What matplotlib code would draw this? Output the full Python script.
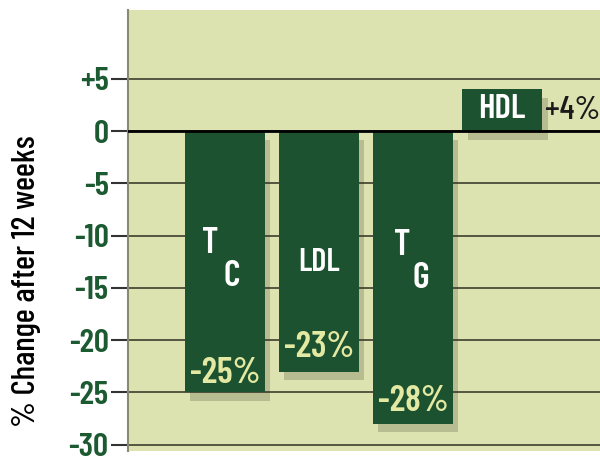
import matplotlib.pyplot as plt
import matplotlib.patheffects as pe

# dane
labels = ["TC", "LDL", "TG", "HDL"]
values = [-25, -23, -28, 4]
pct_labels = ["-25%", "-23%", "-28%", "+4%"]
positions = [0, 1, 2, 2.95]
yticks = [5, 0, -5, -10, -15, -20, -25, -30]
ytick_labels = ["+5", "0", "-5", "-10", "-15", "-20", "-25", "-30"]

bar_col = "#1d5230"
bg_col = "#dce3b1"
tick_col = "#1c5a32"
pct_col = "#e3e9a2"

plt.rcParams['font.family'] = ['Barlow Condensed', 'DejaVu Sans']

fig = plt.figure(figsize=(6, 4.59), dpi=100)
fig.patch.set_facecolor("white")
ax = fig.add_axes([128/600, 8/459, 1 - 128/600, 1 - 18/459])
ax.set_facecolor(bg_col)

# cien pod slupkami
shadow = [pe.SimplePatchShadow(offset=(4, -6), shadow_rgbFace="#3a3a20", alpha=0.22), pe.Normal()]
bars = ax.bar(positions, values, width=0.85, color=bar_col, zorder=3)
for b in bars:
    b.set_path_effects(shadow)

# siatka
for t in yticks:
    ax.axhline(t, color="#4a4a38", lw=1.3, zorder=1)
ax.axhline(0, color="black", lw=2, zorder=4)

ax.set_xlim(-1.03, 3.99)
ax.set_ylim(-30.6, 11.6)
ax.set_yticks(yticks)
ax.set_yticklabels(ytick_labels, color=tick_col, fontsize=24, fontweight=600)
ax.set_xticks([])
ax.tick_params(axis="y", length=12, width=1.5, color="#333333", pad=2)
for s in ["top", "right", "bottom"]:
    ax.spines[s].set_visible(False)
ax.spines["left"].set_color("#8a8a70")
ax.spines["left"].set_linewidth(1.5)

ax.set_ylabel("% Change after 12 weeks", fontsize=24, fontweight=500, color="black")
ax.yaxis.set_label_coords(-0.185, 0.385)

# etykiety w slupkach
txt = dict(color="white", fontweight=600, ha="center", va="center", zorder=5)
ax.text(positions[0] - 0.16, -10.7, "T", fontsize=26, **txt)
ax.text(positions[0] + 0.07, -13.9, "C", fontsize=26, **txt)
ax.text(positions[1], -12.6, "LDL", fontsize=23, **txt)
ax.text(positions[2] - 0.11, -10.9, "T", fontsize=26, **txt)
ax.text(positions[2] + 0.08, -14.1, "G", fontsize=26, **txt)
ax.text(positions[3], 2.1, "HDL", fontsize=25, **txt)

pc = dict(color=pct_col, fontsize=26, fontweight=600, ha="center", va="center", zorder=5)
ax.text(positions[0], -23.2, pct_labels[0], **pc)
ax.text(positions[1], -20.7, pct_labels[1], **pc)
ax.text(positions[2], -25.9, pct_labels[2], **pc)
ax.text(positions[3] + 0.45, 2.0, pct_labels[3], color="#1a1a1a", fontsize=24,
        fontweight=500, ha="left", va="center", zorder=5)

fig.savefig("out.png", dpi=100)
